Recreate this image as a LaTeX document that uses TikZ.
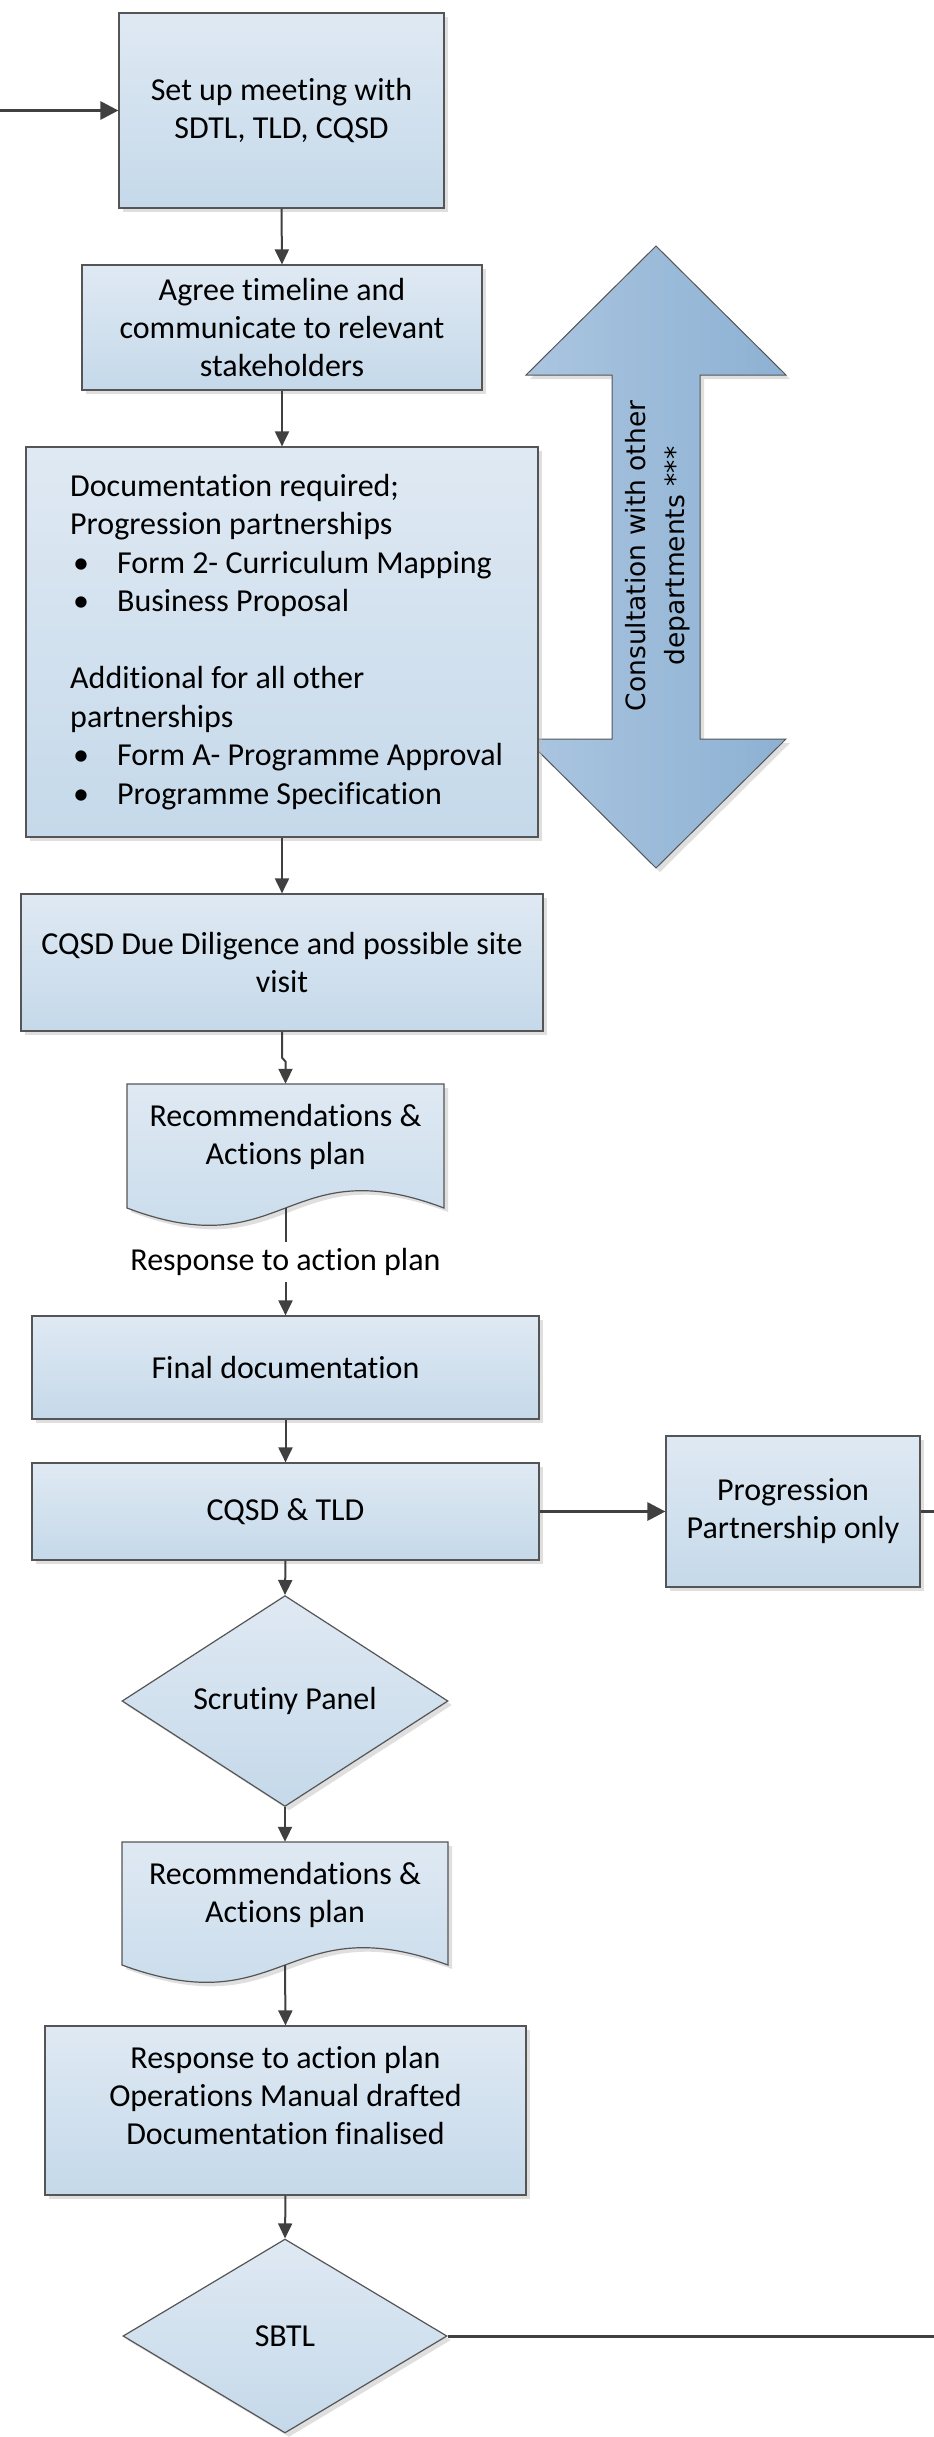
\documentclass[tikz,border=0pt]{standalone}
\usepackage{fontspec}
\setmainfont{Carlito}[Ligatures={NoCommon}]
\newfontfamily\dejavu{DejaVu Sans}
\usetikzlibrary{shapes.geometric,shadows,arrows.meta}
\definecolor{boxtop}{RGB}{223,233,243}
\definecolor{boxbot}{RGB}{197,217,234}
\definecolor{arrL}{RGB}{170,197,224}
\definecolor{arrR}{RGB}{141,177,211}
\definecolor{edgec}{RGB}{85,85,85}
\definecolor{linec}{RGB}{64,64,64}
\newcommand\bulitem{\makebox[47pt][l]{\hspace{3pt}•}}
\tikzset{
  myshadow/.style={drop shadow={shadow xshift=4pt,shadow yshift=-4pt,fill=black!25,opacity=.5}},
  boxfill/.style={draw=edgec,line width=1.2pt,top color=boxtop,bottom color=boxbot,myshadow},
  stepbox/.style={rectangle,boxfill,inner sep=0pt,align=center,font=\fontsize{32}{38}\selectfont},
  txt/.style={inner sep=0pt,align=center,font=\fontsize{32}{38}\selectfont},
  decision/.style={diamond,boxfill,inner sep=0pt,align=center,font=\fontsize{32}{38}\selectfont},
  conn/.style={draw=linec,line width=2pt,-{Triangle[length=15pt,width=14pt]}},
  plainline/.style={draw=linec,line width=2pt},
  thickconn/.style={draw=linec,line width=3pt,-{Triangle[length=18pt,width=18pt]}},
  thickline/.style={draw=linec,line width=3pt},
}
\begin{document}
\begin{tikzpicture}[x=1pt,y=-1pt]
\useasboundingbox (0,0) rectangle (934,2437);

% big double arrow
\path[draw=edgec,line width=1pt,left color=arrL,right color=arrR,myshadow]
  (656,246) -- (786,375) -- (700,375) -- (700,739) -- (786,739) -- (656,868)
  -- (526,739) -- (612,739) -- (612,375) -- (526,375) -- cycle;
\node[rotate=90,inner sep=0pt,align=center,font=\dejavu\fontsize{26.5}{39}\selectfont] (cons) at (658,556) {Consultation with other\\departments ***};

% boxes
\node[stepbox,minimum width=325pt,minimum height=195pt] (box1) at (281.5,110.5) {Set up meeting with\\SDTL, TLD, CQSD};
\node[stepbox,minimum width=400pt,minimum height=125pt] (box2) at (282,327.5) {Agree timeline and\\communicate to relevant\\stakeholders};
\node[stepbox,minimum width=512pt,minimum height=390pt] (box3) at (282,642) {};
\node[txt,anchor=west,align=left,font=\fontsize{32}{38.5}\selectfont] (box3t) at (70,642) {Documentation required;\\Progression partnerships\\\bulitem Form 2- Curriculum Mapping\\\bulitem Business Proposal\\[38.5pt]Additional for all other\\partnerships\\\bulitem Form A- Programme Approval\\\bulitem Programme Specification};
\node[stepbox,minimum width=522pt,minimum height=137pt] (box4) at (282,962.5) {CQSD Due Diligence and possible site\\visit};

% document 1
\path[boxfill] (127,1084) -- (127,1208) .. controls (285.5,1268) and (285.5,1148) .. (444,1208) -- (444,1084) -- cycle;
\node[txt,minimum width=317pt,minimum height=106pt] (doc1) at (285.5,1137) {Recommendations \&\\Actions plan};
\coordinate (d1b) at (285.5,1208);

\node[txt,minimum height=40pt] (resp) at (285.5,1262) {Response to action plan};

\node[stepbox,minimum width=507pt,minimum height=103pt] (box5) at (285.5,1367.5) {Final documentation};
\node[stepbox,minimum width=507pt,minimum height=97pt] (box6) at (285.5,1511.5) {CQSD \& TLD};
\node[stepbox,minimum width=254pt,minimum height=151pt] (box7) at (793,1511.5) {Progression\\Partnership only};

\node[decision,minimum width=326pt,minimum height=196pt] (dia1) at (285,1701) {Scrutiny Panel};

% document 2
\path[boxfill] (122,1842) -- (122,1965) .. controls (285,2025) and (285,1905) .. (448,1965) -- (448,1842) -- cycle;
\node[txt,minimum width=326pt,minimum height=106pt] (doc2) at (285,1895) {Recommendations \&\\Actions plan};
\coordinate (d2b) at (285,1965);

\node[stepbox,minimum width=481pt,minimum height=169pt] (box8) at (285.5,2110.5) {};
\node[txt] (box8t) at (285.5,2095) {Response to action plan\\Operations Manual drafted\\Documentation finalised};

\node[decision,minimum width=324pt,minimum height=194pt] (dia2) at (285,2336) {SBTL};

% connectors
\coordinate (s0) at (0,110.5);
\coordinate (e1) at (934,1511.5);
\coordinate (e2) at (934,2336);
\draw[thickconn] (s0) -- (box1.west);
\draw[conn] (box1.south) -- (box2.north);
\draw[conn] (box2.south) -- (box3.north);
\draw[conn] (box3.south) -- (box4.north);
\draw[conn] (box4.south) -- ++(0,26) -- ++(3.5,4) -- (doc1.north);
\draw[plainline] (d1b) -- (resp.north);
\draw[conn] (resp.south) -- (box5.north);
\draw[conn] (box5.south) -- (box6.north);
\draw[thickconn] (box6.east) -- (box7.west);
\draw[thickline] (box7.east) -- (e1);
\draw[conn] (box6.south) -- (dia1.north);
\draw[conn] (dia1.south) -- (doc2.north);
\draw[conn] (d2b) -- (box8.north);
\draw[conn] (box8.south) -- (dia2.north);
\draw[thickline] (dia2.east) -- (e2);
\end{tikzpicture}
\end{document}
